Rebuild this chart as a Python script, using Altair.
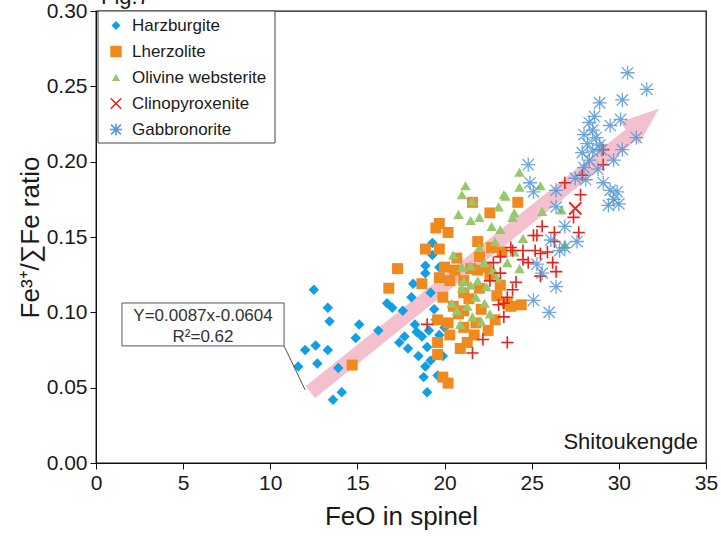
import altair as alt
import pandas as pd

# ---- axis ticks ----
X_TICKS = [0, 5, 10, 15, 20, 25, 30, 35]
Y_TICKS = [0.00, 0.05, 0.10, 0.15, 0.20, 0.25, 0.30]

# ---- spinel analyses: FeO (wt%) and Fe3+/sum(Fe) ----
hz_x = [12.5, 13.3, 13.4, 15.1, 16.2, 14.9, 12.0, 12.6, 13.3, 12.7, 11.6, 13.9, 14.1, 13.6, 16.7,
        17.0, 17.6, 18.1, 18.9, 18.9, 19.7, 18.2, 19.2, 17.7, 17.4, 17.9, 18.4, 18.7, 19.0, 18.9,
        18.8, 19.2, 19.0, 19.3, 19.3, 19.5, 19.7, 19.4, 19.9, 19.6, 18.5, 18.3, 19.1, 19.8, 20.0]
hz_y = [0.115, 0.103, 0.094, 0.092, 0.088, 0.083, 0.075, 0.078, 0.075, 0.066, 0.064, 0.063, 0.047, 0.042, 0.106,
        0.103, 0.101, 0.110, 0.131, 0.126, 0.130, 0.119, 0.113, 0.084, 0.080, 0.076, 0.087, 0.084, 0.077, 0.064,
        0.057, 0.068, 0.047, 0.146, 0.138, 0.095, 0.085, 0.102, 0.071, 0.058, 0.071, 0.092, 0.088, 0.123, 0.090]

lz_x = [14.7, 16.8, 17.3, 18.7, 18.9, 19.7, 19.7, 20.2, 19.5, 19.9, 21.6, 22.6, 24.2, 21.9, 20.7,
        22.0, 22.4, 19.7, 20.3, 21.1, 21.1, 22.0, 23.0, 23.6, 24.4, 19.6, 20.2, 21.1, 22.1, 21.1,
        21.3, 20.9, 19.6, 19.6, 21.8, 19.9, 20.2, 23.8, 20.0, 20.6, 21.5, 22.6, 22.9, 21.4, 20.5,
        22.7, 23.3, 20.3, 20.8, 21.7, 22.5, 23.2, 21.9]
lz_y = [0.065, 0.116, 0.129, 0.119, 0.142, 0.142, 0.159, 0.153, 0.156, 0.110, 0.173, 0.166, 0.173, 0.147, 0.136,
        0.137, 0.130, 0.123, 0.121, 0.121, 0.113, 0.116, 0.111, 0.106, 0.105, 0.095, 0.093, 0.101, 0.102, 0.090,
        0.080, 0.076, 0.080, 0.072, 0.093, 0.057, 0.053, 0.104, 0.130, 0.128, 0.129, 0.124, 0.095, 0.109, 0.104,
        0.143, 0.140, 0.085, 0.099, 0.085, 0.088, 0.118, 0.128]

ow_x = [21.2, 21.0, 21.6, 23.4, 20.8, 21.5, 22.0, 23.1, 24.0, 22.7, 23.2, 24.5, 22.0, 21.0, 21.5,
        22.3, 22.8, 21.1, 21.0, 21.9, 22.4, 20.4, 21.3, 22.3, 20.7, 21.6, 22.1, 21.5, 24.3, 24.3,
        25.5, 23.5, 23.9, 25.6, 26.7, 26.9, 23.6, 24.3, 22.9, 20.5, 21.8, 20.9, 22.6, 24.0, 23.0]
ow_y = [0.184, 0.178, 0.174, 0.178, 0.165, 0.161, 0.163, 0.170, 0.166, 0.157, 0.155, 0.149, 0.143, 0.130, 0.131,
        0.133, 0.128, 0.121, 0.116, 0.121, 0.117, 0.106, 0.104, 0.106, 0.101, 0.097, 0.094, 0.118, 0.193, 0.183,
        0.184, 0.177, 0.163, 0.167, 0.168, 0.145, 0.133, 0.129, 0.147, 0.138, 0.110, 0.092, 0.099, 0.140, 0.123]

cp_x = [29.1, 29.1, 27.9, 26.9, 27.8, 27.4, 27.7, 25.6, 25.3, 26.3, 26.3, 25.2, 25.5, 24.5, 25.9,
        26.2, 23.8, 23.2, 23.9, 25.5, 26.4, 23.2, 22.6, 23.9, 23.4, 23.4, 25.1, 24.5, 23.6, 23.1,
        19.0, 22.2, 23.6, 21.6, 24.1, 22.8, 24.8]
cp_y = [0.198, 0.208, 0.191, 0.186, 0.178, 0.163, 0.153, 0.157, 0.151, 0.153, 0.147, 0.141, 0.139, 0.135, 0.140,
        0.133, 0.143, 0.137, 0.141, 0.124, 0.127, 0.126, 0.121, 0.115, 0.106, 0.097, 0.151, 0.141, 0.110, 0.105,
        0.092, 0.082, 0.080, 0.073, 0.120, 0.133, 0.133]
cpx_x = [27.5]
cpx_y = [0.169]

gb_x = [30.5, 31.6, 28.9, 30.2, 30.1, 28.3, 28.5, 28.7, 28.2, 28.5, 27.9, 28.3, 29.0, 30.2, 31.0,
        29.7, 24.8, 24.9, 25.1, 29.1, 29.5, 29.7, 29.4, 30.0, 27.5, 26.4, 26.4, 26.9, 27.6, 26.9,
        26.6, 25.6, 26.4, 25.1, 26.0, 26.1, 28.6, 28.0, 28.8, 28.1, 28.9, 29.5, 28.0, 25.3, 29.9]
gb_y = [0.259, 0.248, 0.239, 0.241, 0.228, 0.226, 0.221, 0.216, 0.212, 0.207, 0.206, 0.201, 0.208, 0.208, 0.216,
        0.201, 0.198, 0.186, 0.180, 0.186, 0.181, 0.175, 0.171, 0.172, 0.189, 0.181, 0.170, 0.157, 0.147, 0.143,
        0.141, 0.126, 0.117, 0.108, 0.100, 0.148, 0.230, 0.196, 0.195, 0.188, 0.211, 0.224, 0.218, 0.132, 0.180]

# ---- trend arrow and regression label ----
arrow_x = [12.3, 30.7]
arrow_y = [0.047, 0.218]
head_x = [31.45]
head_y = [0.227]
leader_x = [10.79, 12.0]
leader_y = [0.0777, 0.0485]
eq_lines = ["Y=0.0087x-0.0604", "R²=0.62"]

# ---- groups ----
GROUPS = ["Harzburgite", "Lherzolite", "Olivine websterite", "Clinopyroxenite", "Gabbronorite"]
COLORS = ["#109FE2", "#F08A1F", "#96C86C", "#E5221C", "#5297D6"]
PINK = "#F4C0CD"

PLUS = "M-1,0L1,0M0,-1L0,1"
XMARK = "M-1,-1L1,1M-1,1L1,-1"
STAR = "M-0.8,-0.8L0.8,0.8M-0.8,0.8L0.8,-0.8M0,-1L0,1M-1,0L1,0"
HEAD = "M1,0L-1,-0.75L-1,0.75Z"

FONT = "Liberation Sans"


def frame(xs, ys):
    return pd.DataFrame({"x": xs, "y": ys})


x_enc = alt.X("x:Q", scale=alt.Scale(domain=[0, 35], nice=False, zero=False),
              axis=alt.Axis(title="FeO in spinel", values=X_TICKS, format="d", labelFlush=False,
                            labelPadding=3, titlePadding=10))
y_enc = alt.Y("y:Q", scale=alt.Scale(domain=[0, 0.30], nice=False),
              axis=alt.Axis(title="Fe³⁺/∑Fe ratio", values=Y_TICKS, format=".2f", labelFlush=False,
                            labelPadding=3, titlePadding=3))

band = alt.Chart(frame(arrow_x, arrow_y)).mark_line(
    color=PINK, strokeWidth=15, strokeCap="butt").encode(x=x_enc, y=y_enc)
head = alt.Chart(frame(head_x, head_y)).mark_point(
    shape=HEAD, size=1500, filled=True, color=PINK, opacity=1, angle=320).encode(x=x_enc, y=y_enc)

hz = alt.Chart(frame(hz_x, hz_y)).mark_point(
    shape="diamond", size=110, filled=True, color=COLORS[0], opacity=1).encode(x=x_enc, y=y_enc)
lz = alt.Chart(frame(lz_x, lz_y)).mark_point(
    shape="square", size=120, filled=True, color=COLORS[1], opacity=1).encode(x=x_enc, y=y_enc)
ow = alt.Chart(frame(ow_x, ow_y)).mark_point(
    shape="triangle-up", size=110, filled=True, color=COLORS[2], opacity=1).encode(x=x_enc, y=y_enc)
cp = alt.Chart(frame(cp_x, cp_y)).mark_point(
    shape=PLUS, size=150, filled=False, color=COLORS[3], strokeWidth=1.6, opacity=1).encode(x=x_enc, y=y_enc)
cpx = alt.Chart(frame(cpx_x, cpx_y)).mark_point(
    shape=XMARK, size=150, filled=False, color=COLORS[3], strokeWidth=1.8, opacity=1).encode(x=x_enc, y=y_enc)
gb = alt.Chart(frame(gb_x, gb_y)).mark_point(
    shape=STAR, size=200, filled=False, color=COLORS[4], strokeWidth=1.3, opacity=0.85).encode(x=x_enc, y=y_enc)

# regression label box with a leader line to the trend
leader = alt.Chart(frame(leader_x, leader_y)).mark_line(
    color="#555555", strokeWidth=1).encode(x=x_enc, y=y_enc)
eq_box = alt.Chart(pd.DataFrame({"x": [1.49], "x2": [10.79], "y": [0.1062], "y2": [0.0777]})).mark_rect(
    fill="white", stroke="#555555", strokeWidth=1).encode(x=x_enc, x2="x2:Q", y=y_enc, y2="y2:Q")
eq_text = alt.Chart(pd.DataFrame({"x": [6.14, 6.14], "y": [0.0975, 0.0835], "t": eq_lines})).mark_text(
    font=FONT, fontSize=17, color="#333333", align="center", baseline="middle").encode(
    x=x_enc, y=y_enc, text="t:N")

# legend drawn as its own framed box in the upper-left corner
one = pd.DataFrame({"a": [0]})
legend_layers = [
    alt.Chart(one).mark_rect(fill="white", stroke="#444444", strokeWidth=1).encode(
        x=alt.value(2), x2=alt.value(179), y=alt.value(0), y2=alt.value(132))
]
leg_shapes = ["diamond", "square", "triangle-up", XMARK, STAR]
leg_filled = [True, True, True, False, False]
leg_sizes = [80, 130, 70, 110, 150]
for i, name in enumerate(GROUPS):
    ypix = 14.5 + i * 26
    legend_layers.append(
        alt.Chart(one).mark_point(shape=leg_shapes[i], filled=leg_filled[i], size=leg_sizes[i],
                                  color=COLORS[i], opacity=1, strokeWidth=1.5).encode(
            x=alt.value(20), y=alt.value(ypix)))
    legend_layers.append(
        alt.Chart(one).mark_text(text=name, font=FONT, fontSize=17, color="#1a1a1a",
                                 align="left", baseline="middle").encode(
            x=alt.value(36), y=alt.value(ypix)))

site = alt.Chart(one).mark_text(text="Shitoukengde", font=FONT, fontSize=22, color="#1a1a1a",
                                align="right", baseline="middle").encode(
    x=alt.value(602), y=alt.value(431))
fig = alt.Chart(one).mark_text(text="Fig.7", font=FONT, fontSize=22, color="#1a1a1a",
                               align="left", baseline="alphabetic").encode(
    x=alt.value(5), y=alt.value(-7))

chart = alt.layer(
    band, head, hz, lz, ow, cp, cpx, gb, leader, eq_box, eq_text, *legend_layers, site, fig
).properties(
    width=610, height=452,
    padding={"left": 96, "top": 11, "right": 15, "bottom": 77},
    autosize=alt.AutoSizeParams(type="none"),
    background="white",
).configure_view(
    stroke="#111111", strokeWidth=1.3
).configure_axis(
    domainColor="#111111", tickColor="#111111", tickSize=6, grid=False,
    labelFont=FONT, titleFont=FONT, labelFontSize=21, titleFontSize=26,
    labelColor="#1a1a1a", titleColor="#1a1a1a", titleFontWeight="normal",
)

chart.save("out.html", embed_options={"renderer": "svg", "actions": False})
